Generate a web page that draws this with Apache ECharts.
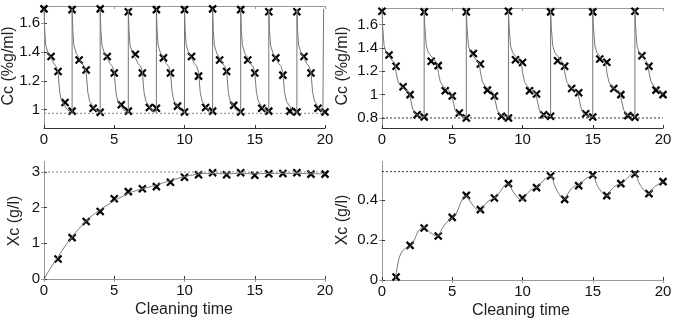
<!DOCTYPE html>
<html>
<head>
<meta charset="utf-8">
<script src="https://cdn.jsdelivr.net/npm/echarts@6/dist/echarts.min.js"></script>
<style>
  html, body { margin: 0; padding: 0; background: #fff; }
  #chart { width: 675px; height: 320px; }
</style>
</head>
<body>
<div id="chart"></div>
<script>
// --- data ---
var xTicks = [0, 5, 10, 15, 20];

// top left: Cc, 2-unit cycles
var tlTicks = [1, 1.2, 1.4, 1.6];
var tlLevel = 0.975;
var tlMarkers = [
  [0,1.70],[0.5,1.37],[1,1.265],[1.5,1.05],[2,0.99],
  [2,1.695],[2.5,1.345],[3,1.275],[3.5,1.01],[4,0.982],
  [4,1.70],[4.5,1.37],[5,1.255],[5.5,1.035],[6,0.99],
  [6,1.68],[6.5,1.385],[7,1.255],[7.5,1.015],[8,1.01],
  [8,1.695],[8.5,1.36],[9,1.255],[9.5,1.025],[10,0.984],
  [10,1.695],[10.5,1.37],[11,1.233],[11.5,1.015],[12,0.99],
  [12,1.70],[12.5,1.345],[13,1.265],[13.5,1.03],[14,0.984],
  [14,1.695],[14.5,1.345],[15,1.255],[15.5,1.01],[16,0.99],
  [16,1.68],[16.5,1.36],[17,1.24],[17.5,0.99],[18,0.984],
  [18,1.68],[18.5,1.37],[19,1.255],[19.5,1.01],[20,0.984]
];
var tlCurve = [
  [0,1.70],[0.05,1.55],[0.12,1.45],[0.3,1.39],[0.5,1.36],[0.7,1.32],[0.88,1.30],[1,1.26],[1.12,1.12],[1.25,1.06],[1.45,1.03],[1.65,1.0],[2,0.98],
  [2,1.70],[2.05,1.55],[2.12,1.45],[2.3,1.39],[2.5,1.36],[2.7,1.32],[2.88,1.30],[3,1.26],[3.12,1.12],[3.25,1.06],[3.45,1.03],[3.65,1.0],[4,0.98],
  [4,1.70],[4.05,1.55],[4.12,1.45],[4.3,1.39],[4.5,1.36],[4.7,1.32],[4.88,1.30],[5,1.26],[5.12,1.12],[5.25,1.06],[5.45,1.03],[5.65,1.0],[6,0.98],
  [6,1.70],[6.05,1.55],[6.12,1.45],[6.3,1.39],[6.5,1.36],[6.7,1.32],[6.88,1.30],[7,1.26],[7.12,1.12],[7.25,1.06],[7.45,1.03],[7.65,1.0],[8,0.98],
  [8,1.70],[8.05,1.55],[8.12,1.45],[8.3,1.39],[8.5,1.36],[8.7,1.32],[8.88,1.30],[9,1.26],[9.12,1.12],[9.25,1.06],[9.45,1.03],[9.65,1.0],[10,0.98],
  [10,1.70],[10.05,1.55],[10.12,1.45],[10.3,1.39],[10.5,1.36],[10.7,1.32],[10.88,1.30],[11,1.26],[11.12,1.12],[11.25,1.06],[11.45,1.03],[11.65,1.0],[12,0.98],
  [12,1.70],[12.05,1.55],[12.12,1.45],[12.3,1.39],[12.5,1.36],[12.7,1.32],[12.88,1.30],[13,1.26],[13.12,1.12],[13.25,1.06],[13.45,1.03],[13.65,1.0],[14,0.98],
  [14,1.70],[14.05,1.55],[14.12,1.45],[14.3,1.39],[14.5,1.36],[14.7,1.32],[14.88,1.30],[15,1.26],[15.12,1.12],[15.25,1.06],[15.45,1.03],[15.65,1.0],[16,0.98],
  [16,1.70],[16.05,1.55],[16.12,1.45],[16.3,1.39],[16.5,1.36],[16.7,1.32],[16.88,1.30],[17,1.26],[17.12,1.12],[17.25,1.06],[17.45,1.03],[17.65,1.0],[18,0.98],
  [18,1.70],[18.05,1.55],[18.12,1.45],[18.3,1.39],[18.5,1.36],[18.7,1.32],[18.88,1.30],[19,1.26],[19.12,1.12],[19.25,1.06],[19.45,1.03],[19.65,1.0],[19.85,0.98],[19.9,1.70]
];

// top right: Cc, 3-unit cycles
var trTicks = [0.8, 1, 1.2, 1.4, 1.6];
var trLevel = 0.8;
var trMarkers = [
  [0,1.715],[0.5,1.34],[1,1.244],[1.5,1.067],[2,1.0],[2.5,0.828],[3,0.808],
  [3,1.71],[3.5,1.286],[4,1.249],[4.5,1.033],[5,0.989],[5.5,0.842],[6,0.80],
  [6,1.71],[6.5,1.353],[7,1.263],[7.5,1.039],[8,0.989],[8.5,0.814],[9,0.80],
  [9,1.715],[9.5,1.30],[10,1.275],[10.5,1.033],[11,1.005],[11.5,0.828],[12,0.814],
  [12,1.71],[12.5,1.291],[13,1.244],[13.5,1.053],[14,1.016],[14.5,0.836],[15,0.808],
  [15,1.71],[15.5,1.305],[16,1.277],[16.5,1.053],[17,1.0],[17.5,0.82],[18,0.806],
  [18,1.715],[18.5,1.333],[19,1.244],[19.5,1.039],[20,1.0]
];
var trCurve = [
  [0,1.72],[0.05,1.58],[0.15,1.42],[0.3,1.36],[0.5,1.33],[0.75,1.29],[0.92,1.27],[1.02,1.18],[1.15,1.11],[1.35,1.07],[1.7,1.04],[1.95,1.01],[2.05,0.95],[2.2,0.87],[2.4,0.83],[2.7,0.815],[3,0.81],
  [3,1.72],[3.05,1.58],[3.15,1.42],[3.3,1.36],[3.5,1.33],[3.75,1.29],[3.92,1.27],[4.02,1.18],[4.15,1.11],[4.35,1.07],[4.7,1.04],[4.95,1.01],[5.05,0.95],[5.2,0.87],[5.4,0.83],[5.7,0.815],[6,0.81],
  [6,1.72],[6.05,1.58],[6.15,1.42],[6.3,1.36],[6.5,1.33],[6.75,1.29],[6.92,1.27],[7.02,1.18],[7.15,1.11],[7.35,1.07],[7.7,1.04],[7.95,1.01],[8.05,0.95],[8.2,0.87],[8.4,0.83],[8.7,0.815],[9,0.81],
  [9,1.72],[9.05,1.58],[9.15,1.42],[9.3,1.36],[9.5,1.33],[9.75,1.29],[9.92,1.27],[10.02,1.18],[10.15,1.11],[10.35,1.07],[10.7,1.04],[10.95,1.01],[11.05,0.95],[11.2,0.87],[11.4,0.83],[11.7,0.815],[12,0.81],
  [12,1.72],[12.05,1.58],[12.15,1.42],[12.3,1.36],[12.5,1.33],[12.75,1.29],[12.92,1.27],[13.02,1.18],[13.15,1.11],[13.35,1.07],[13.7,1.04],[13.95,1.01],[14.05,0.95],[14.2,0.87],[14.4,0.83],[14.7,0.815],[15,0.81],
  [15,1.72],[15.05,1.58],[15.15,1.42],[15.3,1.36],[15.5,1.33],[15.75,1.29],[15.92,1.27],[16.02,1.18],[16.15,1.11],[16.35,1.07],[16.7,1.04],[16.95,1.01],[17.05,0.95],[17.2,0.87],[17.4,0.83],[17.7,0.815],[18,0.81],
  [18,1.72],[18.05,1.58],[18.15,1.42],[18.3,1.36],[18.5,1.33],[18.75,1.29],[18.92,1.27],[19.02,1.18],[19.15,1.11],[19.35,1.07],[19.7,1.04],[20,1.0]
];

// bottom left: Xc rising to 3
var blTicks = [0, 1, 2, 3];
var blLevel = 3.0;
var blMarkers = [
  [1,0.56],[2,1.16],[3,1.61],[4,1.89],[5,2.25],[6,2.45],[7,2.53],[8,2.59],[9,2.71],[10,2.85],
  [11,2.92],[12,2.98],[13,2.92],[14,2.98],[15,2.91],[16,2.95],[17,2.96],[18,2.98],[19,2.94],[20,2.94]
];
var blCurve = [
  [0,0],[0.5,0.33],[1,0.62],[1.5,0.92],[2,1.17],[2.5,1.42],[3,1.62],[3.5,1.8],[4,1.94],[4.5,2.07],
  [5,2.19],[5.5,2.3],[6,2.4],[6.5,2.47],[7,2.53],[7.5,2.58],[8,2.64],[8.5,2.7],[9,2.76],[9.5,2.82],
  [10,2.87],[10.5,2.91],[11,2.94],[11.5,2.96],[12,2.96],[13,2.95],[14,2.96],[15,2.95],[16,2.96],
  [17,2.96],[18,2.96],[19,2.95],[20,2.95]
];

// bottom right: Xc sawtooth
var brTicks = [0, 0.2, 0.4];
var brLevel = 0.542;
var brMarkers = [
  [1,0.015],[2,0.173],[3,0.26],[4,0.22],[5,0.313],[6,0.423],[7,0.352],[8,0.41],[9,0.482],[10,0.41],
  [11,0.462],[12,0.52],[13,0.403],[14,0.472],[15,0.525],[16,0.422],[17,0.482],[18,0.53],[19,0.432],[20,0.492]
];
var brCurve = [
  [0.95,0.0],[1.1,0.07],[1.3,0.125],[1.6,0.155],[2,0.165],[2.3,0.2],[2.6,0.245],[3,0.265],
  [3.3,0.245],[3.7,0.225],[4,0.22],[4.3,0.26],[4.7,0.295],[5,0.31],[5.3,0.335],[5.7,0.4],[6,0.42],
  [6.3,0.39],[6.7,0.355],[7,0.345],[7.3,0.375],[7.7,0.4],[8,0.41],[8.4,0.44],[8.7,0.47],[9,0.48],
  [9.3,0.445],[9.7,0.41],[10,0.40],[10.3,0.43],[10.7,0.455],[11,0.462],[11.4,0.49],[11.7,0.51],[12,0.52],
  [12.3,0.47],[12.7,0.42],[13,0.405],[13.3,0.44],[13.7,0.47],[14,0.475],[14.4,0.5],[14.7,0.515],[15,0.525],
  [15.3,0.475],[15.7,0.435],[16,0.42],[16.3,0.45],[16.7,0.475],[17,0.48],[17.4,0.505],[17.7,0.525],[18,0.535],
  [18.3,0.485],[18.7,0.445],[19,0.43],[19.3,0.46],[19.7,0.48],[20,0.49]
];

// --- layout ---
var font = 'Arial, "Liberation Sans", sans-serif';
var panels = [
  {grid: {left: 44, top: 6, width: 281, height: 122}, ymin: 0.873, ymax: 1.72, ticks: tlTicks,
   curve: tlCurve, marks: tlMarkers, level: tlLevel, levelColor: '#888', smooth: false},
  {grid: {left: 382, top: 8, width: 281, height: 120}, ymin: 0.714, ymax: 1.743, ticks: trTicks,
   curve: trCurve, marks: trMarkers, level: trLevel, levelColor: '#333', smooth: false},
  {grid: {left: 44, top: 162, width: 281, height: 117}, ymin: 0, ymax: 3.28, ticks: blTicks,
   curve: blCurve, marks: blMarkers, level: blLevel, levelColor: '#888', smooth: true},
  {grid: {left: 382, top: 162, width: 281, height: 118}, ymin: 0, ymax: 0.59, ticks: brTicks,
   curve: brCurve, marks: brMarkers, level: brLevel, levelColor: '#333', smooth: 0.4}
];

var grids = [], xAxes = [], yAxes = [], series = [];
var xSymbol = 'path://M0,0L10,10M10,0L0,10';

panels.forEach(function(p, i) {
  var g = p.grid;
  g.outerBoundsMode = 'none';
  grids.push(g);
  var tick = {show: true, inside: true, length: 3, lineStyle: {color: '#333'}};
  // bottom / top
  xAxes.push({
    type: 'value', gridIndex: i, min: 0, max: 20, interval: 5, position: 'bottom',
    axisLine: {show: true, lineStyle: {color: '#333', width: 1}},
    axisTick: tick, splitLine: {show: false},
    axisLabel: {fontSize: 15, color: '#111', fontFamily: font, margin: 4}
  });
  xAxes.push({
    type: 'value', gridIndex: i, min: 0, max: 20, interval: 5, position: 'top',
    axisLine: {show: true, lineStyle: {color: '#999', width: 1}},
    axisTick: {show: true, inside: true, length: 3, lineStyle: {color: '#999'}},
    axisLabel: {show: false}, splitLine: {show: false}
  });
  // left / right
  yAxes.push({
    type: 'value', gridIndex: i, min: p.ymin, max: p.ymax, position: 'left',
    axisLine: {show: true, lineStyle: {color: '#333', width: 1}},
    axisTick: {show: true, inside: true, length: 3, lineStyle: {color: '#333'}, customValues: p.ticks},
    splitLine: {show: false},
    axisLabel: {fontSize: 15, color: '#111', fontFamily: font, margin: 4, customValues: p.ticks,
      formatter: function(v) { return String(+v.toFixed(2)); }}
  });
  yAxes.push({
    type: 'value', gridIndex: i, min: p.ymin, max: p.ymax, position: 'right',
    axisLine: {show: true, lineStyle: {color: '#999', width: 1}},
    axisTick: {show: true, inside: true, length: 3, lineStyle: {color: '#999'}, customValues: p.ticks},
    axisLabel: {show: false}, splitLine: {show: false}
  });

  series.push({
    type: 'line', xAxisIndex: 2 * i, yAxisIndex: 2 * i,
    data: [[0, p.level], [20, p.level]], symbol: 'none', silent: true,
    lineStyle: {color: p.levelColor, width: 1, type: [2, 2]}
  });
  series.push({
    type: 'line', xAxisIndex: 2 * i, yAxisIndex: 2 * i,
    data: p.curve, symbol: 'none', smooth: p.smooth, silent: true,
    lineStyle: {color: '#777', width: 1}
  });
  series.push({
    type: 'scatter', xAxisIndex: 2 * i, yAxisIndex: 2 * i,
    data: p.marks, symbol: xSymbol, symbolSize: 7,
    itemStyle: {color: '#000', borderColor: '#000', borderWidth: 2.2, opacity: 1}
  });
});

function label(text, x, y, rotate) {
  return {
    type: 'text', x: x, y: y, rotation: rotate ? Math.PI / 2 : 0,
    style: {text: text, fontSize: 16, fontFamily: font, fill: '#222',
      align: 'center', verticalAlign: 'middle', textAlign: 'center', textVerticalAlign: 'middle'}
  };
}

var chart = echarts.init(document.getElementById('chart'), null, {renderer: 'canvas'});
chart.setOption({
  backgroundColor: '#fff',
  animation: false,
  grid: grids,
  xAxis: xAxes,
  yAxis: yAxes,
  series: series,
  graphic: [
    label('Cc (%g/ml)', 9, 66, true),
    label('Cc (%g/ml)', 343, 66, true),
    label('Xc (g/l)', 15, 221, true),
    label('Xc (g/l)', 343, 220, true),
    label('Cleaning time', 184, 310, false),
    label('Cleaning time', 521, 311, false)
  ]
});
</script>
</body>
</html>
